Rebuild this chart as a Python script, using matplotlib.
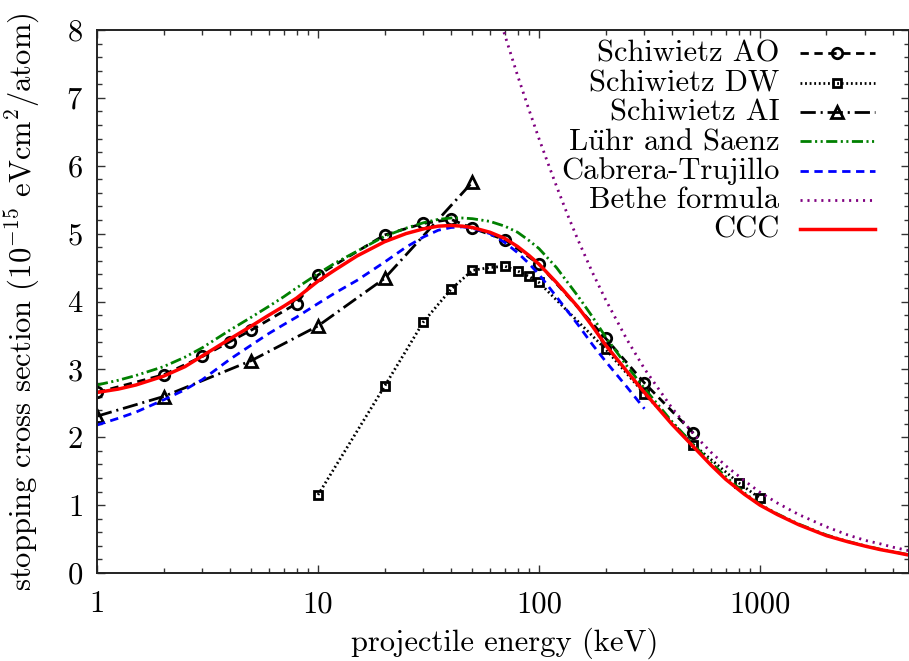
import matplotlib
matplotlib.use('Agg')
import matplotlib.pyplot as plt
from matplotlib.ticker import FixedLocator, NullFormatter, FixedFormatter

plt.rcParams['font.family'] = ['cmr10', 'DejaVu Serif']
plt.rcParams['mathtext.fontset'] = 'cm'
plt.rcParams['axes.formatter.use_mathtext'] = True
plt.rcParams['lines.scale_dashes'] = False

# ---------------- data ----------------
ao_E = [1, 2, 3, 4, 5, 8, 10, 20, 30, 40, 50, 70, 100, 200, 300, 500]
ao_S = [2.66, 2.92, 3.19, 3.41, 3.58, 3.97, 4.39, 4.98, 5.15, 5.21, 5.08, 4.91, 4.55, 3.46, 2.80, 2.06]

dw_E = [10, 20, 30, 40, 50, 60, 70, 80, 90, 100, 200, 300, 500, 800, 1000]
dw_S = [1.15, 2.75, 3.70, 4.18, 4.46, 4.50, 4.52, 4.45, 4.37, 4.28, 3.30, 2.64, 1.89, 1.33, 1.10]

ai_E = [1, 2, 5, 10, 20, 50]
ai_S = [2.31, 2.60, 3.13, 3.64, 4.34, 5.76]

curve_E = [1, 1.25, 1.5, 2, 2.5, 3, 4, 5, 6, 7, 8, 10, 12, 15, 20, 25, 30, 35, 40, 45, 50,
           60, 70, 80, 90, 100, 120, 150, 175, 200, 250, 300, 400, 500, 600, 700, 850,
           1000, 1200, 1500, 2000, 2500, 3000, 3500, 4000, 4700]
luhr_S = [2.77, 2.84, 2.91, 3.04, 3.18, 3.32, 3.58, 3.77, 3.93, 4.07, 4.20, 4.41, 4.57, 4.74,
          4.96, 5.08, 5.16, 5.21, 5.23, 5.23, 5.22, 5.18, 5.11, 5.02, 4.90, 4.78, 4.50, 4.08,
          3.77, 3.48, 3.05, 2.72, 2.23, 1.89, 1.63, 1.42, 1.18, 1.01, 0.87, 0.72, 0.56, 0.465,
          0.40, 0.35, 0.315, 0.27]
ccc_S = [2.66, 2.71, 2.77, 2.90, 3.04, 3.20, 3.45, 3.64, 3.80, 3.93, 4.05, 4.30, 4.47, 4.67,
         4.88, 5.00, 5.07, 5.11, 5.12, 5.11, 5.09, 5.02, 4.93, 4.81, 4.68, 4.55, 4.28, 3.92,
         3.63, 3.36, 2.97, 2.66, 2.19, 1.86, 1.59, 1.38, 1.16, 1.00, 0.86, 0.71, 0.55, 0.46,
         0.395, 0.345, 0.31, 0.265]

cabrera_E = [1, 1.25, 1.5, 2, 2.5, 3, 4, 5, 6, 7, 8, 10, 12, 15, 20, 25, 30, 35, 40, 45, 50,
             60, 70, 80, 90, 100, 120, 150, 175, 200, 250, 300]
cabrera_S = [2.18, 2.28, 2.37, 2.55, 2.70, 2.85, 3.15, 3.36, 3.53, 3.66, 3.77, 3.97, 4.13, 4.31,
             4.58, 4.80, 4.95, 5.05, 5.09, 5.10, 5.08, 5.00, 4.87, 4.72, 4.56, 4.40, 4.07, 3.66,
             3.36, 3.12, 2.74, 2.42]

bethe_E = [65, 70, 75, 80, 90, 100, 110, 120, 135, 150, 175, 200, 250, 300, 400, 500, 600, 700,
           850, 1000, 1200, 1500, 2000, 2500, 3000, 3500, 4000, 4700]
bethe_S = [8.26, 7.93, 7.62, 7.33, 6.83, 6.40, 6.03, 5.70, 5.27, 4.91, 4.42, 4.03, 3.44, 3.01,
           2.43, 2.05, 1.78, 1.58, 1.36, 1.19, 1.03, 0.86, 0.68, 0.56, 0.48, 0.43, 0.38, 0.33]

labels = ['Schiwietz AO', 'Schiwietz DW', 'Schiwietz AI', r'L$\ddot{\mathrm{u}}$hr and Saenz',
          'Cabrera-Trujillo', 'Bethe formula', 'CCC']
x_ticks = [1, 10, 100, 1000]
x_tick_labels = ['1', '10', '100', '1000']
y_ticks = [0, 1, 2, 3, 4, 5, 6, 7, 8]

# ---------------- styles ----------------
styles = [
    dict(color='black', lw=2.0, dashes=(6, 4), marker='o', ms=7.5, mew=2.0, mfc='none'),
    dict(color='black', lw=2.0, dashes=(1.3, 2.0), marker='s', ms=6.0, mew=2.0, mfc='none'),
    dict(color='black', lw=2.0, dashes=(11, 3.5, 1.5, 3.5), marker='^', ms=8.0, mew=2.0, mfc='none'),
    dict(color='#008000', lw=2.0, dashes=(8, 2.5, 1.5, 2.5, 1.5, 2.5)),
    dict(color='#0000ff', lw=2.0, dashes=(6, 4)),
    dict(color='#800080', lw=2.0, dashes=(1.5, 3.5)),
    dict(color='#ff0000', lw=2.5, ls='-'),
]

fig = plt.figure(figsize=(9.09, 6.61), dpi=100)
ax = fig.add_axes([97 / 909, 1 - 573 / 661, (908.5 - 97) / 909, (573 - 30) / 661])

series = [(ao_E, ao_S), (dw_E, dw_S), (ai_E, ai_S), (curve_E, luhr_S),
          (cabrera_E, cabrera_S), (bethe_E, bethe_S), (curve_E, ccc_S)]
for (xs, ys), st in zip(series, styles):
    ax.plot(xs, ys, **st)

ax.set_xscale('log')
ax.set_xlim(1, 4700)
ax.set_ylim(0, 8)

ax.xaxis.set_major_locator(FixedLocator(x_ticks))
ax.xaxis.set_major_formatter(FixedFormatter(x_tick_labels))
minors = [m * 10 ** d for d in range(0, 4) for m in range(2, 10)]
ax.xaxis.set_minor_locator(FixedLocator(minors))
ax.xaxis.set_minor_formatter(NullFormatter())
ax.yaxis.set_major_locator(FixedLocator(y_ticks))
ax.yaxis.set_minor_locator(FixedLocator([i * 0.2 for i in range(41)]))

ax.tick_params(which='both', direction='in', top=True, right=True, labelsize=22,
               color='#333333', width=1.0)
ax.tick_params(which='major', length=6)
ax.tick_params(which='minor', length=3.5)
ax.tick_params(axis='x', which='major', pad=13)
ax.tick_params(axis='y', which='major', pad=10)
for sp in ax.spines.values():
    sp.set_linewidth(1.4)
    sp.set_color('#222222')

ax.set_xlabel('projectile energy (keV)', fontsize=22, va='center')
ax.xaxis.set_label_coords((505 - 97) / 812, (573 - 643) / 543)
ax.set_ylabel(r'stopping cross section ($10^{-15}$ eVcm$^2$/atom)', fontsize=22, va='center')
ax.yaxis.set_label_coords((22 - 97) / 812, 0.5)

# ---------------- key (gnuplot-style, text right-aligned, sample on the right) ----------------
row_px = [53, 82.5, 112, 141, 170.5, 200, 229]
x_text = (780 - 97) / 812
x0, x1 = (800 - 97) / 812, (875 - 97) / 812
xm = (x0 + x1) / 2
for lab, st, ry in zip(labels, styles, row_px):
    yl = (573 - ry) / 543
    yb = (573 - (ry + 8.5)) / 543
    ax.text(x_text, yb, lab, transform=ax.transAxes, ha='right', va='baseline', fontsize=22)
    line_st = {k: v for k, v in st.items() if k not in ('marker', 'ms', 'mew', 'mfc')}
    ax.plot([x0, x1], [yl, yl], transform=ax.transAxes, clip_on=False, **line_st)
    if 'marker' in st:
        ax.plot([xm], [yl], transform=ax.transAxes, clip_on=False, ls='none',
                marker=st['marker'], ms=st['ms'], mew=st['mew'], mfc='none', color=st['color'])

fig.savefig('out.png', dpi=100)
